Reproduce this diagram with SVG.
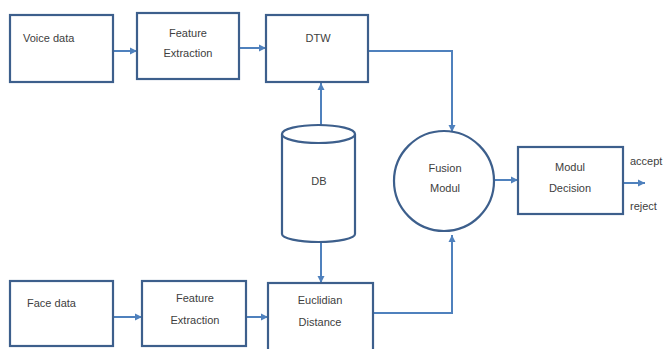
<svg xmlns="http://www.w3.org/2000/svg" width="672" height="349" viewBox="0 0 672 349">
  <defs>
    <marker id="arrow" markerWidth="8" markerHeight="8" refX="7" refY="4" orient="auto" markerUnits="userSpaceOnUse">
      <path d="M0,0.5 L7,4 L0,7.5 Z" fill="#4f81bd"/>
    </marker>
    <style>
      .box { fill: #ffffff; stroke: #3d5f8c; stroke-width: 2.2; }
      .link { fill: none; stroke: #4f81bd; stroke-width: 2; marker-end: url(#arrow); }
      .lbl { font-family: "Liberation Sans", Arial, sans-serif; font-size: 11px; fill: #404040; }
      .mid { text-anchor: middle; }
    </style>
  </defs>
  <rect width="672" height="349" fill="#ffffff"/>

  <!-- connectors -->
  <g id="connectors">
    <line class="link" x1="113" y1="51" x2="137" y2="51"/>
    <line class="link" x1="239" y1="48" x2="266" y2="48"/>
    <line class="link" x1="321" y1="125" x2="321" y2="83"/>
    <line class="link" x1="321" y1="242" x2="321" y2="283"/>
    <line class="link" x1="113" y1="317" x2="142" y2="317"/>
    <line class="link" x1="246" y1="317" x2="268" y2="317"/>
    <polyline class="link" points="368,51 452,51 452,132"/>
    <polyline class="link" points="373,313 452,313 452,235"/>
    <line class="link" x1="495" y1="180" x2="518" y2="180"/>
    <line class="link" x1="623" y1="183" x2="645" y2="183"/>
  </g>

  <!-- upper branch: voice -->
  <g id="voice-data">
    <rect class="box" x="10" y="15" width="103" height="67"/>
    <text class="lbl" x="23" y="42">Voice data</text>
  </g>
  <g id="voice-feature">
    <rect class="box" x="137" y="13" width="102" height="66"/>
    <text class="lbl mid" x="188" y="37">Feature</text>
    <text class="lbl mid" x="188" y="57">Extraction</text>
  </g>
  <g id="dtw">
    <rect class="box" x="266" y="15" width="102" height="67"/>
    <text class="lbl mid" x="318" y="42">DTW</text>
  </g>

  <!-- database cylinder -->
  <g id="db">
    <path class="box" d="M282,134 L282,234 A36.5,8 0 0 0 355,234 L355,134"/>
    <ellipse class="box" cx="318.5" cy="134" rx="36.5" ry="9"/>
    <text class="lbl mid" x="319" y="185">DB</text>
  </g>

  <!-- lower branch: face -->
  <g id="face-data">
    <rect class="box" x="10" y="281" width="103" height="65"/>
    <text class="lbl" x="27" y="307">Face data</text>
  </g>
  <g id="face-feature">
    <rect class="box" x="142" y="281" width="104" height="65"/>
    <text class="lbl mid" x="195" y="302">Feature</text>
    <text class="lbl mid" x="195" y="324">Extraction</text>
  </g>
  <g id="euclidian">
    <rect class="box" x="268" y="283" width="105" height="70"/>
    <text class="lbl mid" x="320" y="304">Euclidian</text>
    <text class="lbl mid" x="320" y="326">Distance</text>
  </g>

  <!-- fusion and decision -->
  <g id="fusion">
    <circle class="box" cx="444" cy="181" r="50"/>
    <text class="lbl mid" x="445" y="172">Fusion</text>
    <text class="lbl mid" x="445" y="192">Modul</text>
  </g>
  <g id="decision">
    <rect class="box" x="518" y="147" width="105" height="67"/>
    <text class="lbl mid" x="570" y="171">Modul</text>
    <text class="lbl mid" x="570" y="192">Decision</text>
  </g>
  <g id="outputs">
    <text class="lbl" x="630" y="165" style="font-size:11px">accept</text>
    <text class="lbl" x="630" y="210" style="font-size:11px">reject</text>
  </g>
</svg>
